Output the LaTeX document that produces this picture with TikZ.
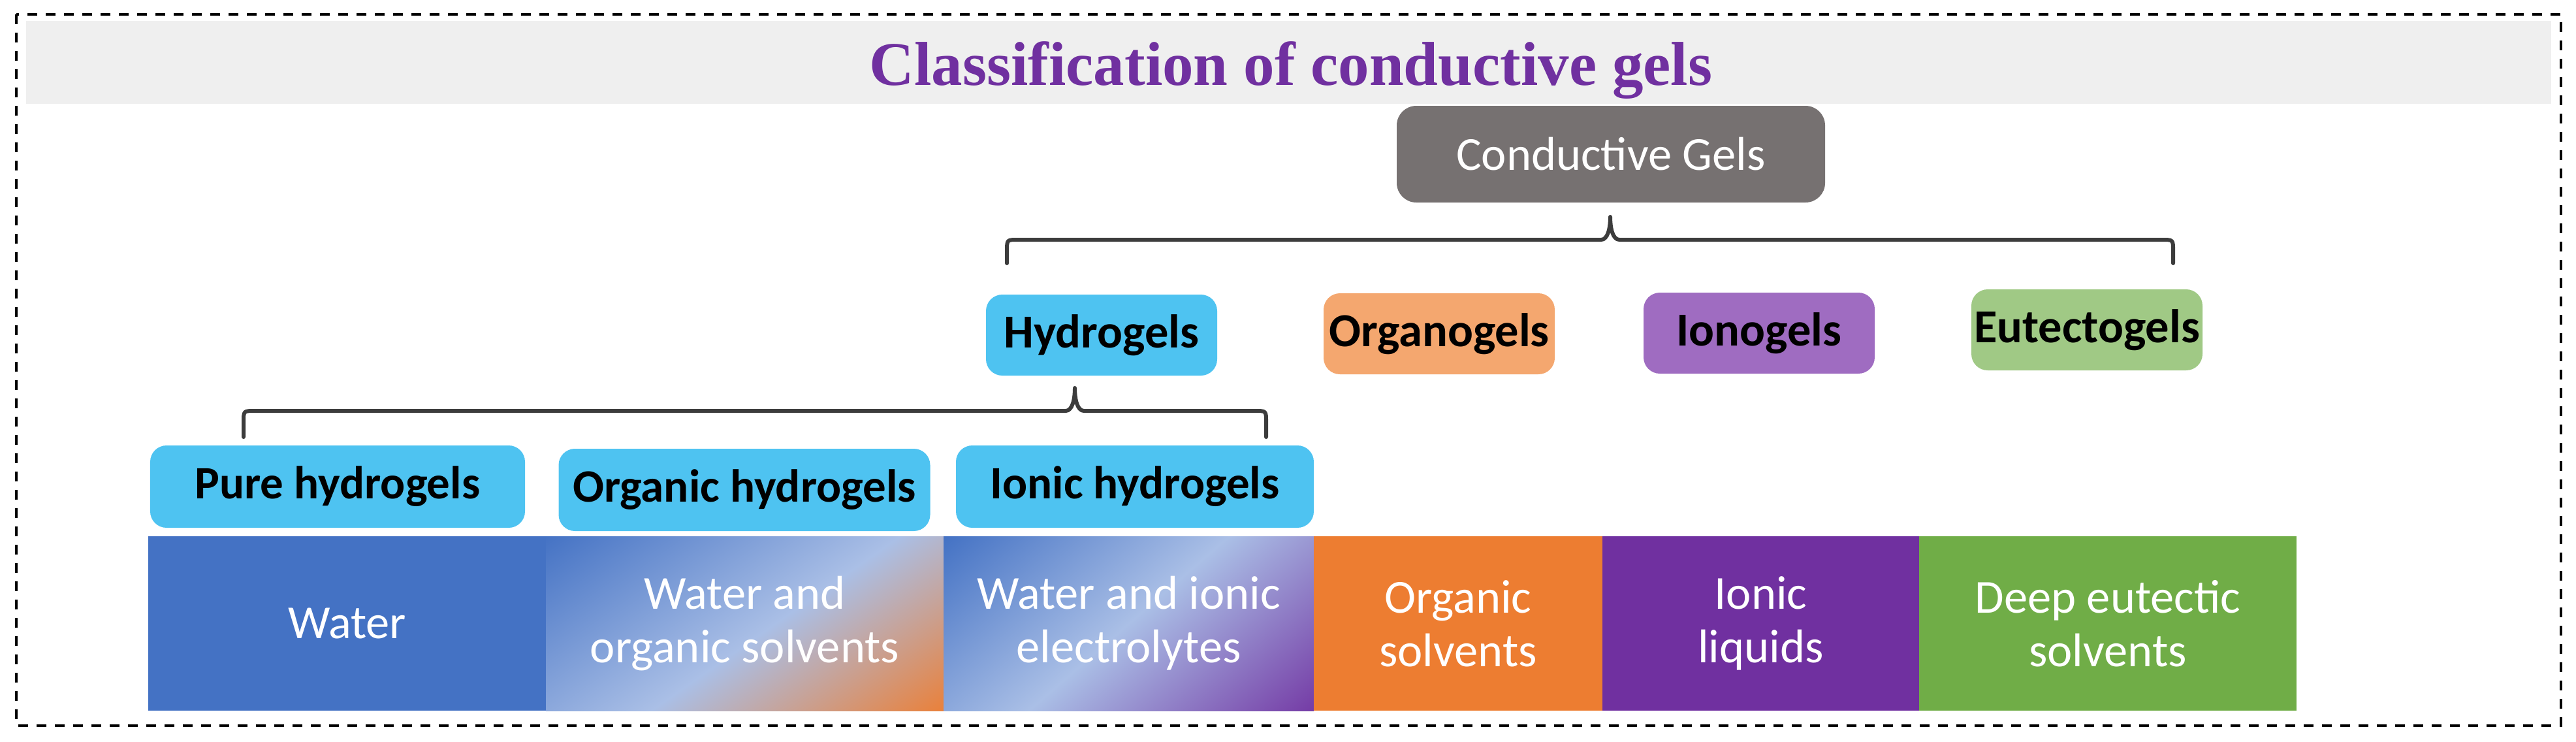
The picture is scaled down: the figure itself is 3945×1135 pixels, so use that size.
\documentclass[tikz,border=0pt]{standalone}
\usepackage{fontspec}
\setmainfont{Carlito}
\newfontfamily\titlefont{Liberation Serif}
\definecolor{hblue}{HTML}{4EC3F1}
\definecolor{lorange}{HTML}{F4A76F}
\definecolor{lpurple}{HTML}{9F6CC1}
\definecolor{lgreen}{HTML}{A0C985}
\definecolor{cgray}{HTML}{767171}
\definecolor{wblue}{HTML}{4472C4}
\definecolor{gorange}{HTML}{ED7D31}
\definecolor{gpurple}{HTML}{7030A0}
\definecolor{ggreen}{HTML}{70AD47}
\definecolor{glight}{HTML}{AABFE6}
\definecolor{bandgray}{HTML}{EFEFEF}
\definecolor{titlec}{HTML}{7030A0}
\definecolor{bracec}{HTML}{3C3C3C}
\pgfdeclarehorizontalshading{orgshade}{100bp}{color(0bp)=(wblue); color(29bp)=(wblue); color(52bp)=(glight); color(72bp)=(gorange); color(100bp)=(gorange)}
\pgfdeclarehorizontalshading{ionshade}{100bp}{color(0bp)=(wblue); color(29bp)=(wblue); color(50bp)=(glight); color(73bp)=(gpurple); color(100bp)=(gpurple)}
\begin{document}
\begin{tikzpicture}[x=0.2pt,y=-0.2pt,
  lab/.style={rectangle, rounded corners=5pt, minimum width=70.8pt, minimum height=24.8pt,
    inner sep=0pt, outer sep=0pt, text=black, font=\fontsize{14.5}{16.5}\selectfont\bfseries},
  sublab/.style={lab, minimum height=25.2pt, font=\fontsize{14.2}{16.5}\selectfont\bfseries},
  basebox/.style={rectangle, inner sep=0pt, outer sep=0pt, minimum height=53.4pt, text=white,
    align=center, font=\fontsize{14.5}{16.4}\selectfont},
  mixbox/.style 2 args={basebox, path picture={
    \shade[shading=#1, shading angle=#2]
      (path picture bounding box.center) ++(-340,-340) rectangle ++(680,680);}},
  bracepath/.style={line width=1.2pt, draw=bracec, line cap=round, line join=round}]

\useasboundingbox (0,0) rectangle (3945,1135);

% frame and title band
\fill[bandgray] (40,32) rectangle (3907,159);
\draw[line width=0.8pt, dash pattern=on 3pt off 2.6pt] (25,22) rectangle (3922,1111);
\node[anchor=base, inner sep=0pt, text=titlec, font=\titlefont\bfseries\fontsize{19}{22}\selectfont] (title) at (1977,130) {Classification of conductive gels};

% root
\node[rectangle, rounded corners=6pt, fill=cgray, minimum width=131.2pt, minimum height=29.6pt,
  inner sep=0pt, text=white, font=\fontsize{14.5}{16.5}\selectfont] (cg) at (2467,236) {Conductive Gels};

% gel classes
\node[lab, fill=hblue] (hyd) at (1687,513) {Hydrogels};
\node[lab, fill=lorange] (org) at (2204,511) {Organogels};
\node[lab, fill=lpurple] (ion) at (2694,510) {Ionogels};
\node[lab, fill=lgreen] (eut) at (3196,505) {Eutectogels};

% hydrogel subclasses
\node[sublab, fill=hblue, minimum width=114.8pt] (pure) at (517,745) {Pure hydrogels};
\node[sublab, fill=hblue, minimum width=113.8pt] (orgh) at (1140,750) {Organic hydrogels};
\node[sublab, fill=hblue, minimum width=109.6pt] (ionh) at (1738,745) {Ionic hydrogels};

% solvent boxes
\node[basebox, fill=wblue, minimum width=121.8pt] (water) at (531.5,954.5) {Water};
\node[mixbox={orgshade}{-55}, minimum width=121.8pt] (wos) at (1140.5,954.5) {Water and\\organic solvents};
\node[mixbox={ionshade}{-49}, minimum width=113.4pt] (wie) at (1728.5,954.5) {Water and ionic\\electrolytes};
\node[basebox, fill=gorange, minimum width=88.4pt] (osol) at (2233,954.5) {Organic\\solvents};
\node[basebox, fill=gpurple, minimum width=97pt] (ilq) at (2696.5,954.5) {Ionic\\liquids};
\node[basebox, fill=ggreen, minimum width=115.6pt] (des) at (3228,954.5) {Deep eutectic\\solvents};

% braces
\coordinate (b1l) at (1542,403);
\coordinate (b1r) at (3328,403);
\coordinate (b1t) at (2466,332);
\draw[bracepath] (b1l) -- (1542,384) .. controls (1542,367) .. (1559,367) -- (2452,367)
  .. controls (2462,367) and (2466,350) .. (b1t)
  .. controls (2466,350) and (2470,367) .. (2480,367) -- (3311,367)
  .. controls (3328,367) .. (3328,384) -- (b1r);

\coordinate (b2l) at (373,669);
\coordinate (b2r) at (1939,669);
\coordinate (b2t) at (1646,594);
\draw[bracepath] (b2l) -- (373,646) .. controls (373,629) .. (390,629) -- (1632,629)
  .. controls (1642,629) and (1646,612) .. (b2t)
  .. controls (1646,612) and (1650,629) .. (1660,629) -- (1922,629)
  .. controls (1939,629) .. (1939,646) -- (b2r);
\end{tikzpicture}
\end{document}
